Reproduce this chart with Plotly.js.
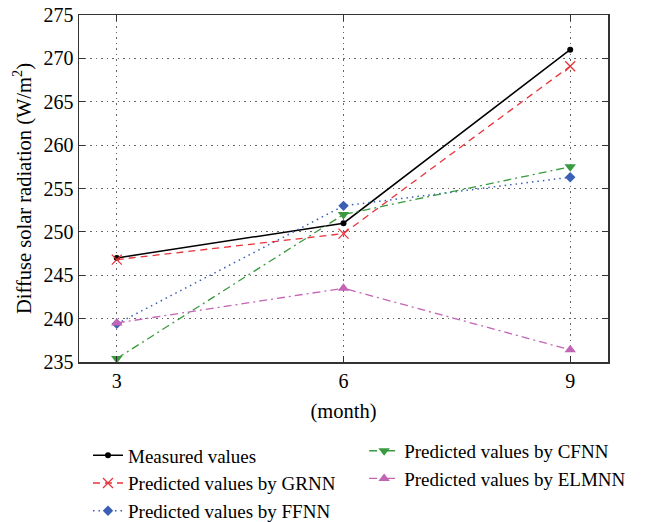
<!DOCTYPE html>
<html>
<head>
<meta charset="utf-8">
<script src="https://cdn.plot.ly/plotly-3.0.1.min.js"></script>
<style>html,body{margin:0;padding:0;background:#fff;}#chart{width:646px;height:522px;}</style>
</head>
<body>
<div id="chart"></div>
<script>
const months = [3, 6, 9];
const measured = [247.0, 251.0, 271.0];
const grnn = [246.8, 249.8, 269.1];
const ffnn = [239.4, 253.0, 256.3];
const cfnn = [235.4, 252.0, 257.5];
const elmnn = [239.5, 243.5, 236.4];
const seriesNames = ["Measured values", "Predicted values by GRNN", "Predicted values by FFNN", "Predicted values by CFNN", "Predicted values by ELMNN"];
const tickVals = [3, 6, 9];
const yTicks = [235, 240, 245, 250, 255, 260, 265, 270, 275];

const traces = [
  {x: months, y: measured, name: seriesNames[0], mode: 'lines+markers', legend: 'legend',
   line: {color: '#000000', width: 1.5}, marker: {symbol: 'circle', size: 6, color: '#000000'}},
  {x: months, y: grnn, name: seriesNames[1], mode: 'lines+markers', legend: 'legend',
   line: {color: '#e8333a', width: 1.3, dash: '7px,5px'}, marker: {symbol: 'x-thin-open', size: 10, line: {color: '#e8333a', width: 1.3}}},
  {x: months, y: ffnn, name: seriesNames[2], mode: 'lines+markers', legend: 'legend',
   line: {color: '#3a5fb5', width: 1.5, dash: '1.5px,4px'}, marker: {symbol: 'diamond', size: 8, color: '#3a5fb5'}},
  {x: months, y: cfnn, name: seriesNames[3], mode: 'lines+markers', legend: 'legend2',
   line: {color: '#3a9a3f', width: 1.3, dash: '8px,4px,2px,4px'}, marker: {symbol: 'triangle-down', size: 10, color: '#3a9a3f'}},
  {x: months, y: elmnn, name: seriesNames[4], mode: 'lines+markers', legend: 'legend2',
   line: {color: '#c464b4', width: 1.3, dash: '8px,4px,2px,4px'}, marker: {symbol: 'triangle-up', size: 10, color: '#c464b4'}}
];

const fam = 'Liberation Serif, Times New Roman, serif';
const tickFont = {family: fam, size: 20, color: '#000'};
const titleFont = {family: fam, size: 20.5, color: '#000'};
const legendFont = {family: fam, size: 19, color: '#000'};

const layout = {
  width: 646, height: 522,
  margin: {l: 79, r: 38, t: 15, b: 160, autoexpand: false},
  paper_bgcolor: '#fff', plot_bgcolor: '#fff',
  font: tickFont,
  showlegend: true,
  xaxis: {
    range: [2.5, 9.5], tickvals: tickVals, ticktext: tickVals.map(String),
    showgrid: true, gridcolor: '#666', griddash: '1.5px,4px', gridwidth: 1.2,
    showline: true, linecolor: '#333', linewidth: 1.5, mirror: 'ticks',
    ticks: 'inside', ticklen: 6, tickcolor: '#333', zeroline: false,
    tickfont: tickFont, automargin: false,
    title: {text: '(month)', font: titleFont, standoff: 13}
  },
  yaxis: {
    range: [235, 275], tickvals: yTicks,
    showgrid: true, gridcolor: '#666', griddash: '1.5px,4px', gridwidth: 1.2,
    showline: true, linecolor: '#333', linewidth: 1.5, mirror: 'ticks',
    ticks: 'inside', ticklen: 6, tickcolor: '#333', zeroline: false,
    tickfont: tickFont, automargin: false,
    title: {text: 'Diffuse solar radiation (W/m<sup>2</sup>)', font: titleFont, standoff: 6}
  },
  legend: {x: 0.017, y: -0.2145, xanchor: 'left', yanchor: 'top', font: legendFont, maxheight: 400,
           bgcolor: 'rgba(0,0,0,0)', tracegroupgap: 0, itemwidth: 30},
  legend2: {x: 0.539, y: -0.2015, xanchor: 'left', yanchor: 'top', font: legendFont, maxheight: 400,
           bgcolor: 'rgba(0,0,0,0)', tracegroupgap: 0, itemwidth: 30}
};

Plotly.newPlot('chart', traces, layout, {displayModeBar: false, staticPlot: true});
</script>
</body>
</html>
